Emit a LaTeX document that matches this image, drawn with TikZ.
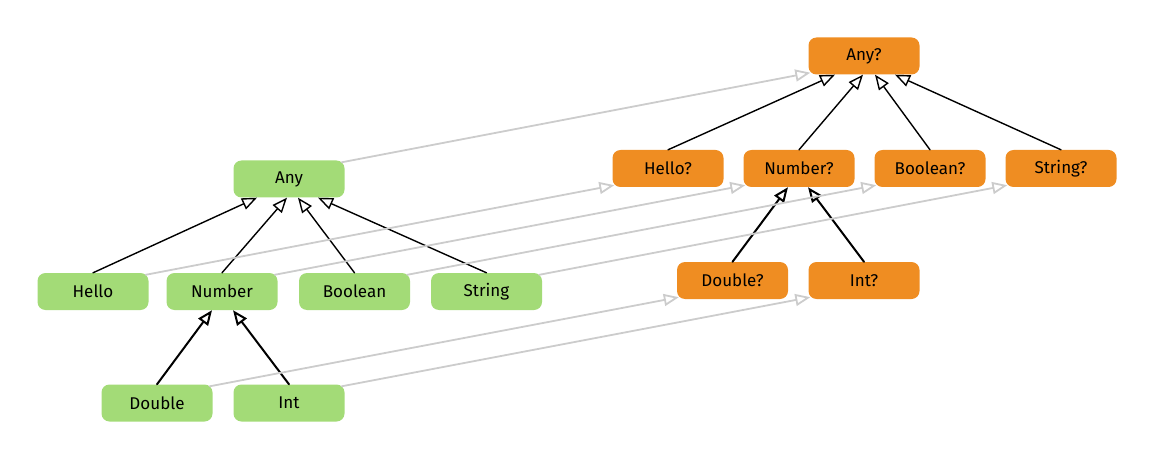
\documentclass[tikz,border=0pt]{standalone}
\usepackage{fontspec}
\setmainfont{Fira Sans}
\usetikzlibrary{arrows.meta}
\definecolor{leaf}{HTML}{A3DB77}
\definecolor{tang}{HTML}{EF8D22}
\definecolor{wire}{HTML}{CCCCCC}
\begin{document}
\begin{tikzpicture}[x=1pt, y=1pt, font=\fontsize{17}{19}\selectfont, line join=round, line cap=round,
	box/.style={rectangle, rounded corners=8pt, minimum width=111pt, minimum height=37pt, inner sep=0pt},
	plain/.style={box, fill=leaf},
	opt/.style={box, fill=tang},
	isa/.style={-{Triangle[open, length=15pt, width=12pt]}, line width=1.4pt},
	lift/.style={isa, draw=wire, line width=1.8pt}]
	\useasboundingbox (0,0) rectangle (1155,461);
	% plain types
	\foreach \n/\t/\x/\y in {any/Any/289/282, hello/Hello/93/169.5, number/Number/222/169.5, boolean/Boolean/354.5/169.5, string/String/486.5/169.5, double/Double/157/58, int/Int/289/58}
		\node[plain] (\n) at (\x,\y) {\t};
	% nullable types
	\foreach \n/\t/\x/\y in {any/Any?/864/405, hello/Hello?/668/292.5, number/Number?/799/292.5, boolean/Boolean?/930/292.5, string/String?/1061/292.5, double/Double?/732.5/180.5, int/Int?/864/180.5}
		\node[opt] (n\n) at (\x,\y) {\t};
	% subtyping
	\foreach \c/\p/\s in {hello/any/-32, number/any/-2, boolean/any/9, string/any/29, nhello/nany/-29, nnumber/nany/-1, nboolean/nany/11, nstring/nany/31}
		\draw[isa] (\c.north) -- ([xshift=\s pt]\p.south);
	\foreach \c/\p/\s in {double/number/-10, int/number/11, ndouble/nnumber/-11, nint/nnumber/9}
		\draw[isa, line width=2pt] (\c.north) -- ([xshift=\s pt]\p.south);
	% T to T?
	\foreach \a in {any,hello,number,boolean,string,double,int}
		\draw[lift] ([shift={(-3,-2)}]\a.north east) -- ([shift={(2,2)}]n\a.south west);
\end{tikzpicture}
\end{document}
